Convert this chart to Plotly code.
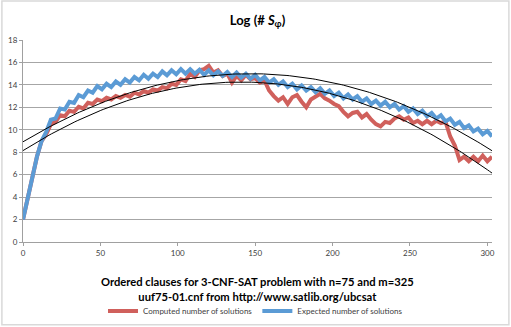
import numpy as np
import plotly.graph_objects as go

# clause index (sampled every 3 clauses, at the zig-zag vertices)
clauses = list(range(0, 304, 3))

computed = [2.0, 4.0, 5.7, 7.6, 9.0, 9.6, 10.5, 10.7, 11.3, 11.2,
            11.7, 11.6, 12.05, 11.9, 12.4, 12.3, 12.7, 12.55, 12.85, 12.7,
            13.0, 12.85, 13.1, 12.95, 13.3, 13.15, 13.45, 13.3, 13.6, 13.5,
            13.8, 13.7, 14.1, 14.0, 14.5, 14.35, 15.0, 14.7, 15.3, 15.4,
            15.7, 15.1, 15.3, 14.8, 15.0, 14.2, 14.8, 14.4, 14.9, 14.5,
            14.6, 14.2, 14.4, 13.5, 13.0, 12.6, 12.9, 12.3, 12.9, 13.1,
            12.5, 12.0, 12.7, 13.0, 13.2, 12.8, 12.6, 12.3, 12.1, 11.6,
            11.2, 11.5, 11.6, 11.1, 11.4, 10.9, 10.5, 10.3, 10.7, 10.6,
            11.0, 11.2, 10.9, 11.1, 10.6, 10.8, 10.5, 10.8, 10.5, 10.8,
            10.6, 10.7, 9.4, 8.6, 7.3, 7.6, 7.2, 7.6, 7.2, 7.7,
            7.2, 7.6]

expected = [2.0, 4.0, 5.7, 7.6, 9.0, 9.8, 10.9, 11.0, 11.9, 11.8,
            12.5, 12.4, 13.1, 12.9, 13.5, 13.3, 13.9, 13.6, 14.1, 13.8,
            14.3, 14.0, 14.5, 14.2, 14.7, 14.4, 14.9, 14.55, 15.0, 14.7,
            15.2, 14.85, 15.3, 14.95, 15.4, 15.0, 15.4, 15.0, 15.35, 14.9,
            15.3, 14.85, 15.2, 14.8, 15.15, 14.7, 15.1, 14.65, 15.0, 14.55,
            14.9, 14.4, 14.7, 14.2, 14.5, 14.0, 14.3, 13.8, 14.1, 13.6,
            13.95, 13.5, 13.8, 13.35, 13.7, 13.2, 13.5, 13.0, 13.3, 12.8,
            13.15, 12.7, 13.0, 12.5, 12.8, 12.3, 12.6, 12.15, 12.5, 12.0,
            12.3, 11.8, 12.1, 11.6, 11.9, 11.4, 11.7, 11.2, 11.5, 11.0,
            11.3, 10.75, 11.0, 10.45, 10.7, 10.15, 10.4, 9.85, 10.1, 9.6,
            9.9, 9.4]

RED = "#D0605C"
BLUE = "#5B9BD5"
FONT = "Lato"

fig = go.Figure()
fig.add_trace(go.Scatter(x=clauses, y=computed, mode="lines",
                         name="Computed number of solutions",
                         line=dict(color=RED, width=4)))
fig.add_trace(go.Scatter(x=clauses, y=expected, mode="lines",
                         name="Expected number of solutions",
                         line=dict(color=BLUE, width=4)))

# polynomial (order 2) trendlines, as Excel draws them
xs = np.linspace(0, 303, 200)
for series in (computed, expected):
    c = np.polyfit(clauses, series, 2)
    fig.add_trace(go.Scatter(x=xs, y=np.polyval(c, xs), mode="lines",
                             showlegend=False, hoverinfo="skip",
                             line=dict(color="black", width=1)))

fig.update_layout(
    width=511, height=327,
    margin=dict(l=23, r=19, t=40, b=85, autoexpand=False),
    paper_bgcolor="white", plot_bgcolor="white",
    font=dict(family=FONT, color="#404040", size=8),
    title=dict(text="<b>Log (# <i>S</i><sub>φ</sub>)</b>", x=0.5, xanchor="center",
               xref="paper", y=1 - 20 / 327, yanchor="middle",
               font=dict(size=13, color="black")),
    legend=dict(orientation="h", xref="container", yref="container",
                x=0.5, xanchor="center", y=1 - 311 / 327, yanchor="middle",
                font=dict(size=8, color="#404040"), itemwidth=30,
                bgcolor="rgba(0,0,0,0)"),
    shapes=[dict(type="rect", xref="paper", yref="paper",
                 x0=-0.045, x1=1.036, y0=-0.41, y1=1.193,
                 line=dict(color="#D9D9D9", width=1.5))],
    annotations=[dict(text="<b>Ordered clauses for 3-CNF-SAT problem with n=75 and m=325<br>"
                           "uuf75-01.cnf from http://www.satlib.org/ubcsat</b>",
                      xref="paper", yref="paper", x=0.5, y=-0.233,
                      xanchor="center", yanchor="middle", showarrow=False,
                      font=dict(size=11.2, color="black"))],
)
fig.update_xaxes(range=[0, 303], tickvals=[0, 50, 100, 150, 200, 250, 300],
                 showgrid=False, showline=True, linecolor="#A0A0A0", linewidth=1,
                 ticks="outside", ticklen=3, tickcolor="#A0A0A0", automargin=False,
                 tickfont=dict(size=8, color="#404040"), zeroline=False)
fig.update_yaxes(range=[0, 18], dtick=2, showgrid=True, gridcolor="#A6A6A6", gridwidth=1,
                 showline=True, linecolor="#A0A0A0", linewidth=1,
                 ticks="outside", ticklen=3, tickcolor="#A0A0A0", automargin=False,
                 tickfont=dict(size=8, color="#404040"), zeroline=False)

# the page body has a default 8px margin; drop it so the chart fills the window
fig.write_html("out.html", config={"displayModeBar": False},
               post_script="document.body.style.margin='0';")
